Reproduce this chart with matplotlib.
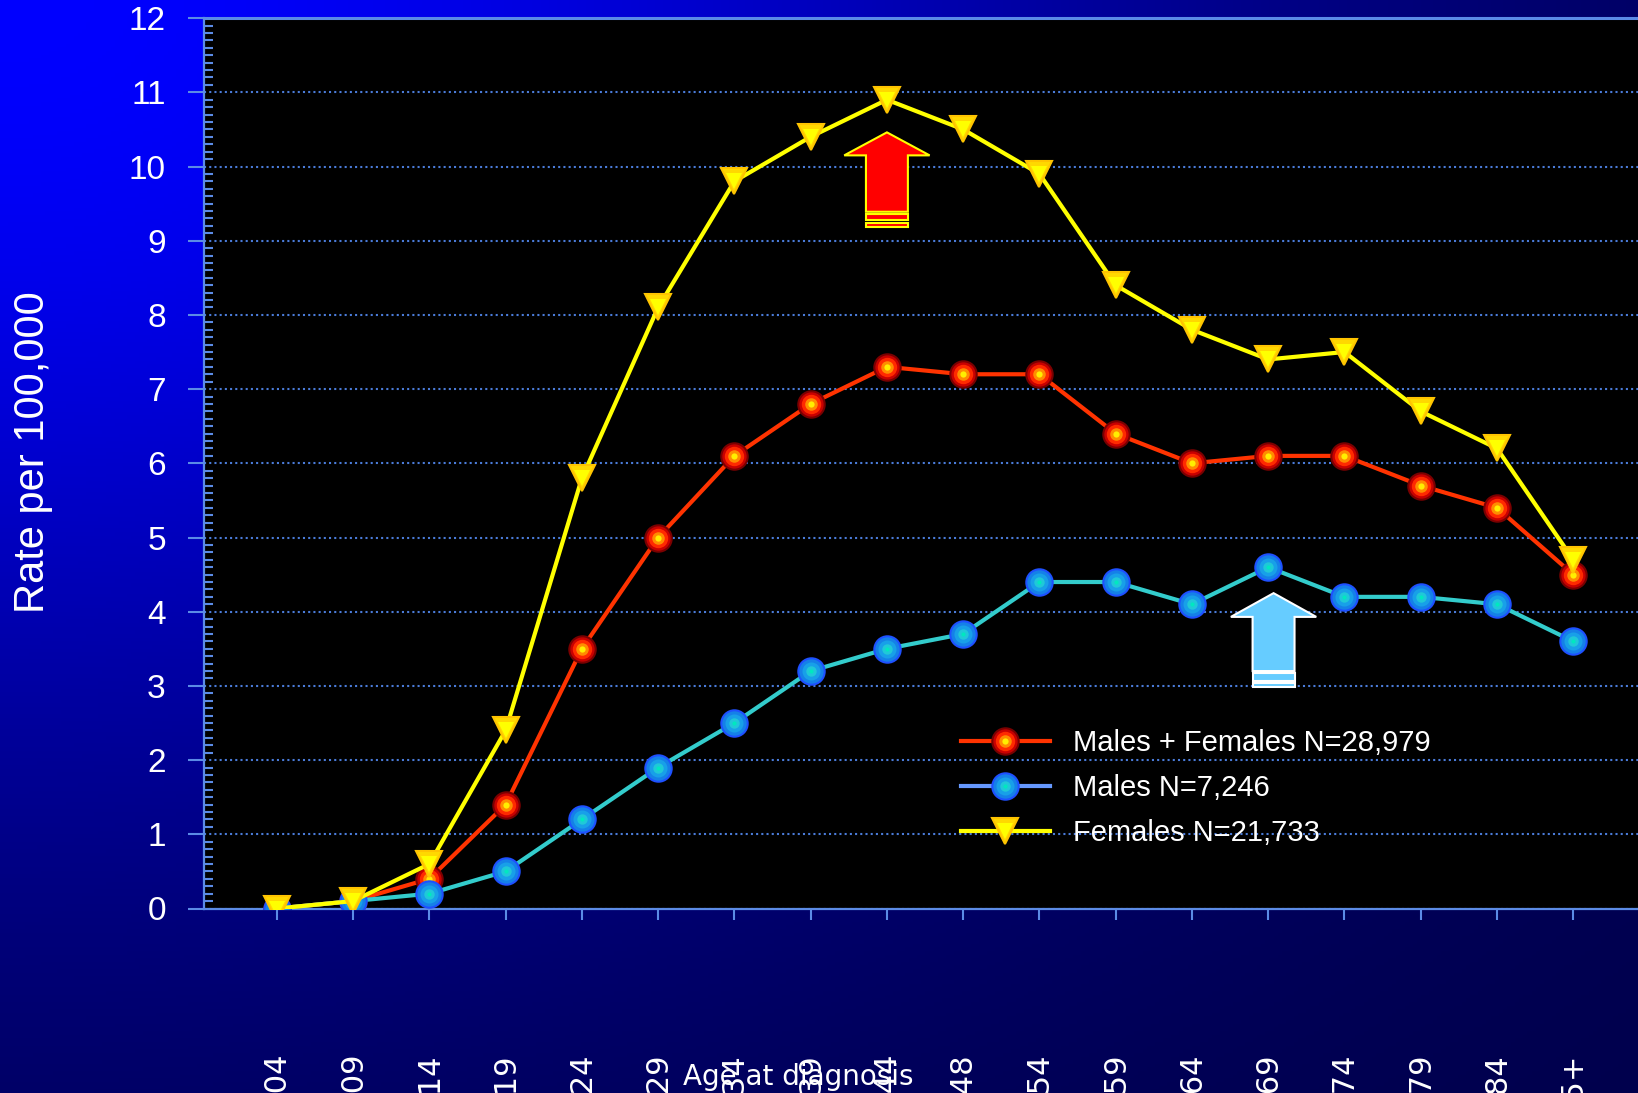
import numpy as np
import matplotlib
matplotlib.use("Agg")
from matplotlib import pyplot as plt
from matplotlib.lines import Line2D
from matplotlib.patches import Polygon
from matplotlib.legend_handler import HandlerTuple
from matplotlib.ticker import MultipleLocator


age_groups = ["00-04", "05-09", "10-14", "15-19", "20-24", "25-29", "30-34", "35-39", "40-44",
              "45-48", "50-54", "55-59", "60-64", "65-69", "70-74", "75-79", "80-84", "85+"]
both_sexes = [0.0, 0.1, 0.4, 1.4, 3.5, 5.0, 6.1, 6.8, 7.3, 7.2, 7.2, 6.4, 6.0, 6.1, 6.1, 5.7, 5.4, 4.5]
males = [0.0, 0.1, 0.2, 0.5, 1.2, 1.9, 2.5, 3.2, 3.5, 3.7, 4.4, 4.4, 4.1, 4.6, 4.2, 4.2, 4.1, 3.6]
females = [0.0, 0.1, 0.6, 2.4, 5.8, 8.1, 9.8, 10.4, 10.9, 10.5, 9.9, 8.4, 7.8, 7.4, 7.5, 6.7, 6.2, 4.7]
legend_labels = ["Males + Females N=28,979", "Males N=7,246", "Females N=21,733"]

W, H = 1638, 1093
axis_blue = "#5B8BE6"
grid_blue = "#4A7BD8"

# marker layers: (size, face, edge)
red_layers = [(19, "#C80000", "#7A0000"), (14, "#FF2A00", None), (9, "#FF8C00", None), (4.5, "#FFEE00", None)]
blue_layers = [(19, "#1580E8", "#1E50FF"), (13, "#18A0E8", None), (7.5, "#20C8D8", None), (3, "#00E8C0", None)]
yellow_layers = [(19, "#FFD800", "#FFC400"), (11, "#FFFF00", None)]


def shiny(ax, x, y, marker, layers, z):
    handles = []
    for ms, face, edge in layers:
        ax.plot(x, y, ls="none", marker=marker, ms=ms, mfc=face,
                mec=edge or face, mew=1.5 if edge else 0, zorder=z)
        handles.append(Line2D([], [], ls="none", marker=marker, ms=ms, mfc=face,
                              mec=edge or face, mew=1.5 if edge else 0))
    return handles


def up_arrow(ax, xc, tip, neck, base, stripes, face, edge):
    hw, sw = 0.56, 0.275
    pts = [(xc, tip), (xc + hw, neck), (xc + sw, neck), (xc + sw, base),
           (xc - sw, base), (xc - sw, neck), (xc - hw, neck)]
    ax.add_patch(Polygon(pts, closed=True, fc=face, ec=edge, lw=1.5, zorder=6))
    for top, bot in stripes:
        ax.add_patch(Polygon([(xc - sw, top), (xc + sw, top), (xc + sw, bot), (xc - sw, bot)],
                             closed=True, fc=face, ec=edge, lw=1.5, zorder=6))


fig = plt.figure(figsize=(W / 100, H / 100), dpi=100)
fig.patch.set_facecolor("#000060")

# background gradient, bright blue in the top left corner
bg = fig.add_axes([0, 0, 1, 1], zorder=-10)
xx, yy = np.meshgrid(np.linspace(0, 1, 400), np.linspace(0, 1, 300))
r2 = xx ** 2 + yy ** 2
blue = (72 + 183 * np.exp(-1.77 * r2)) / 255
img = np.dstack([np.zeros_like(blue), np.zeros_like(blue), blue])
bg.imshow(img, aspect="auto", extent=[0, 1, 0, 1], origin="upper")
bg.axis("off")

ax = fig.add_axes([204 / W, 184.5 / H, 0.8804, 890.4 / H])
ax.set_facecolor("black")
x = np.arange(len(age_groups))

ax.plot(x, both_sexes, color="#FF3300", lw=3, zorder=3)
red_h = shiny(ax, x, both_sexes, "o", red_layers, 3)
ax.plot(x, males, color="#33CCCC", lw=3, zorder=4)
blue_h = shiny(ax, x, males, "o", blue_layers, 4)
ax.plot(x, females, color="#FFFF00", lw=3, zorder=5)
yel_h = shiny(ax, x, females, "v", yellow_layers, 5)

up_arrow(ax, 8.0, 10.46, 10.15, 9.39, [(9.36, 9.28), (9.24, 9.19)], "#FF0000", "#FFFF00")
up_arrow(ax, 13.07, 4.25, 3.93, 3.20, [(3.17, 3.07), (3.04, 2.98)], "#66CCFF", "white")

ax.set_xlim(-0.955, 17.955)
ax.set_ylim(0, 12)
ax.set_yticks(range(0, 13))
ax.yaxis.set_minor_locator(MultipleLocator(0.1))
ax.set_xticks(x)
ax.set_xticklabels(age_groups, rotation=90, va="top", ha="center",
                   fontsize=22, family="DejaVu Sans", color="white")
for lab in ax.get_yticklabels():
    lab.set_family("Liberation Sans")
ax.tick_params(axis="y", which="major", direction="out", length=11.5, width=1.5,
               color=axis_blue, labelcolor="white", labelsize=24, pad=16)
ax.tick_params(axis="y", which="minor", direction="in", length=6.5, width=1.5, color=axis_blue)
ax.tick_params(axis="x", which="major", direction="out", length=8, width=1.5,
               color=axis_blue, pad=96)

for side in ["left", "bottom", "top", "right"]:
    ax.spines[side].set_color(axis_blue)
    ax.spines[side].set_linewidth(1.6)
ax.spines["top"].set_linewidth(2.2)

ax.grid(axis="y", color=grid_blue, lw=1.5, ls=(0, (1, 1.5)), zorder=1)
ax.set_axisbelow(True)

lines = [Line2D([], [], color="#FF3300", lw=3),
         Line2D([], [], color="#6699FF", lw=3),
         Line2D([], [], color="#FFFF00", lw=3)]
handles = [tuple([lines[0]] + red_h), tuple([lines[1]] + blue_h), tuple([lines[2]] + yel_h)]
leg = ax.legend(handles, legend_labels, handler_map={tuple: HandlerTuple(ndivide=1, pad=0)},
                loc="upper left", bbox_to_anchor=(961 / W, (H - 729) / H),
                bbox_transform=fig.transFigure, frameon=False,
                handlelength=3.05, handletextpad=0.8, labelspacing=0.58, borderpad=0,
                borderaxespad=0, prop={"family": "Liberation Sans", "size": 21})
for t in leg.get_texts():
    t.set_color("white")
leg.set_zorder(7)

fig.text(33 / W, 1 - 452 / H, "Rate per 100,000", rotation=90, ha="center", va="center",
         color="white", fontsize=30, family="Liberation Sans")
fig.text(798 / W, 8 / H, "Age at diagnosis", ha="center", va="baseline",
         color="white", fontsize=20, family="DejaVu Sans", zorder=10)

fig.savefig("out.png", dpi=100, facecolor=fig.get_facecolor())
